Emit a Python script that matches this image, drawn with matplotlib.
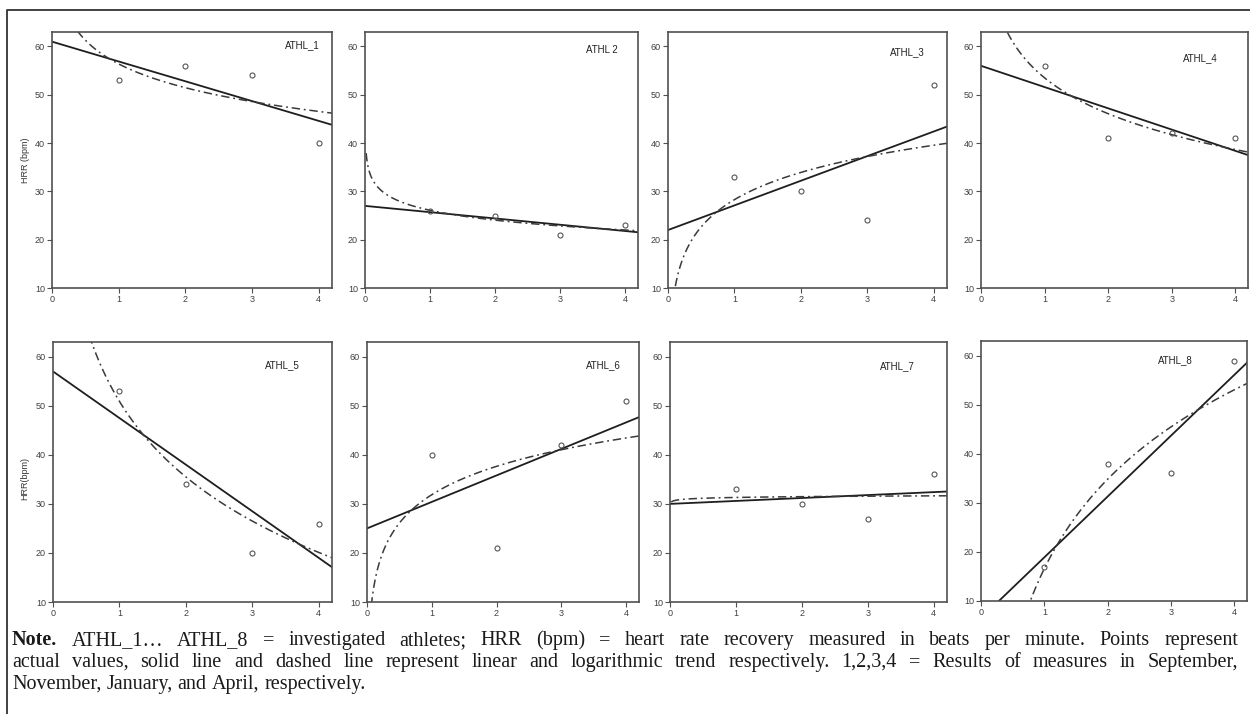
import matplotlib
matplotlib.use("Agg")
import matplotlib.pyplot as plt
from matplotlib.lines import Line2D
import numpy as np

# --- data ---
athletes = ["ATHL_1", "ATHL 2", "ATHL_3", "ATHL_4",
            "ATHL_5", "ATHL_6", "ATHL_7", "ATHL_8"]
measures = [1, 2, 3, 4]  # September, November, January, April
hrr_1 = [53, 56, 54, 40]
hrr_2 = [26, 25, 21, 23]
hrr_3 = [33, 30, 24, 52]
hrr_4 = [56, 41, 42, 41]
hrr_5 = [53, 34, 20, 26]
hrr_6 = [40, 21, 42, 51]
hrr_7 = [33, 30, 27, 36]
hrr_8 = [17, 38, 36, 59]
hrr_all = [hrr_1, hrr_2, hrr_3, hrr_4, hrr_5, hrr_6, hrr_7, hrr_8]
x_ticks = [0, 1, 2, 3, 4]
y_ticks = [10, 20, 30, 40, 50, 60]

note_lines = [
    "Note. ATHL_1\u2026 ATHL_8 = investigated athletes; HRR (bpm) = heart rate recovery "
    "measured in beats per minute. Points represent",
    "actual values, solid line and dashed line represent linear and logarithmic trend "
    "respectively. 1,2,3,4 = Results of measures in September,",
    "November, January, and April, respectively.",
]

# --- layout (pixels of a 1250x714 canvas) ---
W, H = 1250, 714
panel_px = [(52, 332, 32, 288), (365, 638, 32, 288), (668, 947, 32, 288), (981, 1248, 32, 288),
            (53, 332, 342, 602), (367, 639, 342, 602), (670, 947, 342, 602), (981, 1247, 341, 601)]
label_pos = [(3.75, 60.3), (3.65, 59.3), (3.6, 58.8), (3.45, 57.6),
             (3.45, 58.3), (3.65, 58.3), (3.45, 58.0), (3.07, 59.0)]

sans = ["Liberation Sans Narrow", "Liberation Sans", "DejaVu Sans"]
edge = "#505050"

fig = plt.figure(figsize=(W / 100, H / 100), dpi=100)
fig.patch.set_facecolor("white")

xs_lin = np.linspace(0, 4.2, 200)
xs_log = np.linspace(0.018, 4.2, 600)

for i, (name, hrr) in enumerate(zip(athletes, hrr_all)):
    x0, x1, yt, yb = panel_px[i]
    ax = fig.add_axes([x0 / W, 1 - yb / H, (x1 - x0) / W, (yb - yt) / H])
    ax.set_xlim(0, 4.2)
    ax.set_ylim(10, 63)

    x = np.array(measures, dtype=float)
    y = np.array(hrr, dtype=float)
    lin = np.polyfit(x, y, 1)
    lg = np.polyfit(np.log(x), y, 1)

    ax.plot(xs_lin, np.polyval(lin, xs_lin), color="#1e1e1e", lw=1.3)
    ax.plot(xs_log, np.polyval(lg, np.log(xs_log)), color="#3a3a3a", lw=1.1,
            dashes=(5.5, 2.5, 1.2, 2.5))
    ax.plot(x, y, "o", ms=3.6, mfc="none", mec="#555555", mew=0.8)

    lx, ly = label_pos[i]
    ax.text(lx, ly, name, ha="center", va="center", fontsize=7,
            family=sans, color="#222222")

    ax.set_xticks(x_ticks)
    ax.set_yticks(y_ticks)
    ax.tick_params(direction="out", length=3.5, width=0.8, color=edge,
                   labelsize=6.5, labelcolor="#404040", pad=1.5)
    for lab in ax.get_xticklabels() + ax.get_yticklabels():
        lab.set_family(sans)
    for sp in ax.spines.values():
        sp.set_color(edge)
        sp.set_linewidth(1.2)

# y axis titles
fig.text(25 / W, 1 - 160 / H, "HRR (bpm)", rotation=90, ha="center", va="center",
         fontsize=6.5, family=sans, color="#333333")
fig.text(25 / W, 1 - 478 / H, "HRR(bpm)", rotation=90, ha="center", va="center",
         fontsize=6.5, family=sans, color="#333333")

# outer frame: left and top edge only
fig.add_artist(Line2D([7 / W, 7 / W, 1.0], [0.0, 1 - 10 / H, 1 - 10 / H],
                      transform=fig.transFigure, color="#333333", lw=1.3))

# note under the panels, justified like the journal text
renderer = fig.canvas.get_renderer()
serif = ["Liberation Serif", "DejaVu Serif"]
note_size = 14.5
left_px, right_px = 12, 1238
note_base = [645, 667, 689]
space_w = fig.text(0, 0, "a a", fontsize=note_size, family=serif).get_window_extent(renderer).width \
    - 2 * fig.text(0, 0, "a", fontsize=note_size, family=serif).get_window_extent(renderer).width
for t in list(fig.texts[-2:]):
    t.remove()
for k, line in enumerate(note_lines):
    words = line.split(" ")
    texts = []
    for j, w in enumerate(words):
        weight = "bold" if (k == 0 and j == 0) else "normal"
        texts.append(fig.text(0, 1 - note_base[k] / H, w, fontsize=note_size, family=serif,
                              weight=weight, va="baseline", ha="left", color="#1a1a1a"))
    widths = [t.get_window_extent(renderer).width for t in texts]
    if k < 2:
        gap = (right_px - left_px - sum(widths)) / (len(words) - 1)
    else:
        gap = space_w
    pos = left_px
    for t, wd in zip(texts, widths):
        t.set_x(pos / W)
        pos += wd + gap

fig.savefig("out.png", dpi=100)
